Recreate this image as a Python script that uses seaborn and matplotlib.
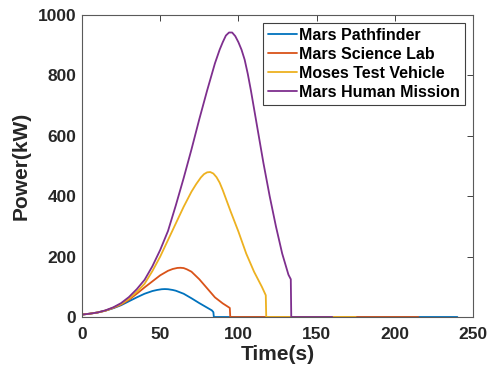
import numpy as np
import pandas as pd
import matplotlib
matplotlib.use("Agg")
import matplotlib.pyplot as plt
import seaborn as sns

# ---- data ----
series_names = ["Mars Pathfinder", "Mars Science Lab", "Moses Test Vehicle", "Mars Human Mission"]

t_pathfinder = [0, 5, 10, 15, 20, 25, 30, 35, 40, 45, 48, 51, 53, 55, 58, 60, 65, 70, 75, 80, 83, 84, 84.3, 240]
p_pathfinder = [8, 11, 15, 21, 29, 39, 52, 65, 77, 86, 89.5, 92, 92.5, 92, 89.5, 87, 77, 62, 46, 31, 22, 16, 0, 0]

t_science = [0, 5, 10, 15, 20, 25, 30, 35, 40, 45, 50, 55, 58, 61, 63, 65, 67, 70, 75, 80, 85, 90, 94.5, 94.8, 215]
p_science = [8, 11, 15, 21, 30, 41, 57, 77, 98, 118, 138, 153, 159, 162.5, 163, 162, 158, 150, 125, 95, 65, 45, 30, 0, 0]

t_moses = [0, 5, 10, 15, 20, 25, 30, 35, 40, 45, 50, 55, 60, 65, 70, 73, 76, 78, 80, 82, 84, 86, 88, 90, 95, 100, 105, 110, 115, 117.5, 117.8, 175]
p_moses = [8, 11, 15, 21, 31, 43, 60, 83, 110, 152, 200, 255, 310, 365, 415, 440, 462, 473, 479, 480, 475, 463, 445, 420, 350, 283, 210, 150, 100, 72, 0, 0]

t_human = [0, 5, 10, 15, 20, 25, 30, 35, 40, 45, 50, 55, 60, 65, 70, 75, 80, 85, 88, 90, 92, 94, 96, 98, 100, 102, 104, 106, 108, 112, 116, 120, 124, 128, 132, 133.5, 133.8, 160]
p_human = [8, 11, 15, 22, 32, 46, 66, 92, 123, 168, 222, 285, 370, 460, 555, 655, 750, 840, 885, 910, 932, 942, 942, 930, 910, 885, 852, 805, 750, 630, 510, 400, 300, 210, 140, 125, 0, 0]

x_ticks = [0, 50, 100, 150, 200, 250]
y_ticks = [0, 200, 400, 600, 800, 1000]
colors = ["#0072BD", "#D95319", "#EDB120", "#7E2F8E"]

frames = []
for name, t, p in zip(series_names,
                      [t_pathfinder, t_science, t_moses, t_human],
                      [p_pathfinder, p_science, p_moses, p_human]):
    frames.append(pd.DataFrame({"Time": t, "Power": p, "Series": name}))
df = pd.concat(frames, ignore_index=True)

# ---- style ----
sns.set_style("white")
plt.rcParams["font.family"] = ["Liberation Sans", "DejaVu Sans"]
plt.rcParams["font.weight"] = "bold"
txt = "#262626"

fig = plt.figure(figsize=(4.9, 3.72), dpi=100)
ax = fig.add_axes([82 / 490, 1 - 317 / 372, (473 - 82) / 490, (317 - 15) / 372])

sns.lineplot(data=df, x="Time", y="Power", hue="Series", hue_order=series_names,
             palette=colors, sort=False, estimator=None, linewidth=1.3, ax=ax)

ax.set_xlim(0, 250)
ax.set_ylim(0, 1000)
ax.set_xticks(x_ticks)
ax.set_yticks(y_ticks)
ax.tick_params(direction="in", length=4, width=0.7, color="#404040",
               top=True, right=True, labelsize=12.5, labelcolor=txt)
ax.tick_params(axis="x", pad=7)
ax.tick_params(axis="y", pad=4)
for lab in ax.get_xticklabels() + ax.get_yticklabels():
    lab.set_fontweight("bold")
for s in ax.spines.values():
    s.set_visible(True)
    s.set_color("#5a5a5a")
    s.set_linewidth(0.8)

ax.set_xlabel("Time(s)", fontsize=15, fontweight="bold", color=txt, labelpad=2)
ax.set_ylabel("Power(kW)", fontsize=15, fontweight="bold", color=txt, labelpad=5)

handles, labels = ax.get_legend_handles_labels()
leg = ax.legend(handles, labels, loc="upper right", fontsize=11.5, frameon=True,
                fancybox=False, edgecolor="#404040", framealpha=1,
                handlelength=1.8, handletextpad=0.15, labelspacing=0.25,
                borderpad=0.3, borderaxespad=0.5)
leg.get_frame().set_linewidth(0.8)
for t in leg.get_texts():
    t.set_fontweight("bold")
    t.set_color("black")

fig.savefig("out.png", dpi=100)
